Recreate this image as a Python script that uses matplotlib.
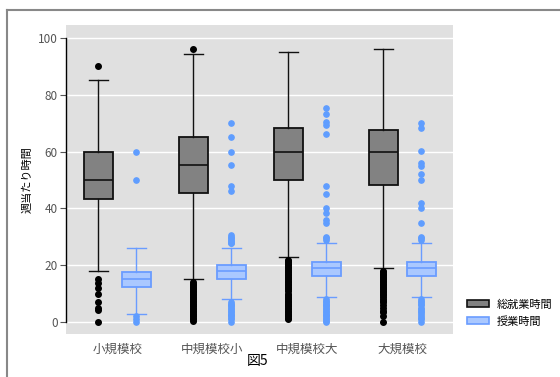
import matplotlib.pyplot as plt
from matplotlib.patches import Patch
from matplotlib.lines import Line2D

plt.rcParams['font.family'] = ['Noto Sans CJK JP', 'DejaVu Sans']

schools = ['小規模校', '中規模校小', '中規模校大', '大規模校']
series = ['総就業時間', '授業時間']

# 総就業時間 (週当たり)
total_q1 = [43.2, 45.3, 50.1, 48.2]
total_med = [50, 55.2, 60, 60]
total_q3 = [60, 65, 68.2, 67.6]
total_lo = [18.1, 15, 23, 18.9]
total_hi = [85.2, 94.3, 95.2, 96.2]
total_fliers = [
    [90.2, 15.1, 13.7, 12, 9.9, 7, 4.9, 4.2, 0],
    [96.3, 14, 13.5, 13, 12.5, 12, 11.5, 11, 10.5, 10, 9.5, 9, 8.5, 8, 7.5, 7,
     6.5, 6, 5.5, 5, 4.5, 4, 3.5, 3, 2.5, 2, 1.5, 1, 0.5],
    [22, 21.5, 21, 20.5, 20, 19.5, 19, 18.5, 18, 17.5, 17, 16.5, 16, 15.5, 15,
     14.5, 14, 13.5, 13, 12.5, 12, 11.5, 11, 10, 9.5, 9, 8.5, 8, 7.5, 7, 6.5,
     6, 5.5, 5, 4.5, 4, 3.5, 3, 2.5, 2, 1.5, 1],
    [18, 17.5, 17, 16.5, 16, 15.5, 15, 14.5, 14, 13.5, 13, 12.5, 12, 11.5, 11,
     10.5, 10, 9.5, 9, 8, 7.5, 7, 6, 5, 4, 3.5, 2, 0],
]

# 授業時間 (週当たり)
class_q1 = [12.2, 15, 16.1, 16.1]
class_med = [15, 18, 19, 19]
class_q3 = [17.8, 20, 21, 21]
class_lo = [3, 8, 8.9, 8.9]
class_hi = [26, 26, 28, 28]
class_fliers = [
    [60, 50, 2.1, 1, 0],
    [70.2, 65, 60, 55.2, 48, 46, 30.6, 30, 29.5, 29, 28.5, 28, 27.7,
     7, 6.5, 6, 5.5, 5, 4.5, 4, 3.5, 3, 2.5, 2, 1.5, 1, 0],
    [75.2, 73.2, 70.5, 69.4, 66.1, 48, 45, 40, 38.3, 36, 35, 30, 29.5, 29,
     8, 7.5, 7, 6.5, 6, 5.5, 5, 4.5, 4, 3.5, 3, 2.5, 2, 1.5, 1, 0.5, 0],
    [70.2, 68.2, 60.2, 55.9, 55, 52.1, 50, 42, 40, 35, 30, 29.5, 29,
     8, 7.5, 7, 6.5, 6, 5, 4.5, 4, 3.5, 3, 2, 1.5, 1, 0],
]

grey_face = '#828282'
blue_face = '#aac8ff'
blue_edge = '#6a9cff'
blue_dot = '#5f9dff'


def make_stats(q1, med, q3, lo, hi, fliers):
    return [dict(q1=a, med=b, q3=c, whislo=d, whishi=e, fliers=f)
            for a, b, c, d, e, f in zip(q1, med, q3, lo, hi, fliers)]


fig = plt.figure(figsize=(5.6, 3.77), dpi=100)
ax = fig.add_axes([66 / 560, 1 - 334 / 377, (453 - 66) / 560, (334 - 25) / 377])
ax.set_facecolor('#e0e0e0')

pos = list(range(len(schools)))

ax.bxp(make_stats(total_q1, total_med, total_q3, total_lo, total_hi, total_fliers),
       positions=[p - 0.2 for p in pos], widths=0.3, capwidths=0.2,
       patch_artist=True, manage_ticks=False,
       boxprops=dict(facecolor=grey_face, edgecolor='#111111', linewidth=1.3),
       medianprops=dict(color='#111111', linewidth=1.2),
       whiskerprops=dict(color='#111111', linewidth=1),
       capprops=dict(color='#111111', linewidth=1),
       flierprops=dict(marker='o', markerfacecolor='black', markeredgecolor='black',
                       markersize=4))

ax.bxp(make_stats(class_q1, class_med, class_q3, class_lo, class_hi, class_fliers),
       positions=[p + 0.2 for p in pos], widths=0.3, capwidths=0.2,
       patch_artist=True, manage_ticks=False,
       boxprops=dict(facecolor=blue_face, edgecolor=blue_edge, linewidth=1.3),
       medianprops=dict(color=blue_edge, linewidth=1.2),
       whiskerprops=dict(color=blue_edge, linewidth=1),
       capprops=dict(color=blue_edge, linewidth=1),
       flierprops=dict(marker='o', markerfacecolor=blue_dot, markeredgecolor=blue_dot,
                       markersize=3.8))

ax.set_xlim(-0.542, 3.532)
ax.set_ylim(-4.2, 104.6)
ax.set_yticks([0, 20, 40, 60, 80, 100])
ax.yaxis.grid(True, color='white', linewidth=1)
ax.set_axisbelow(True)
ax.set_xticks(pos)
ax.set_xticklabels(schools)
ax.tick_params(axis='x', length=0, pad=6, labelsize=9, labelcolor='#555555')
ax.tick_params(axis='y', length=4, width=0.8, color='#555555', labelsize=8.5,
               labelcolor='#555555', pad=2)
for side in ['top', 'right', 'bottom']:
    ax.spines[side].set_visible(False)
ax.spines['left'].set_bounds(0, 100)
ax.spines['left'].set_color('black')
ax.spines['left'].set_linewidth(1)

ax.set_ylabel('週当たり時間', fontsize=8, labelpad=4)
fig.text(258 / 560, 1 - 361 / 377, '図5', ha='center', va='center', fontsize=10)

handles = [Patch(facecolor=grey_face, edgecolor='#111111', linewidth=1.2),
           Patch(facecolor=blue_face, edgecolor=blue_edge, linewidth=1.2)]
fig.legend(handles, series, loc='center left', bbox_to_anchor=(457 / 560, 1 - 313 / 377),
           frameon=False, fontsize=8, handlelength=2.0, handleheight=0.6,
           handletextpad=0.7, labelspacing=0.55)

# outer frame line along top and left
fig.add_artist(Line2D([7 / 560, 1], [1 - 10 / 377, 1 - 10 / 377],
                      color='#888888', linewidth=1.5, transform=fig.transFigure))
fig.add_artist(Line2D([7 / 560, 7 / 560], [0, 1 - 10 / 377],
                      color='#888888', linewidth=1.5, transform=fig.transFigure))

fig.savefig('out.png', dpi=100)
